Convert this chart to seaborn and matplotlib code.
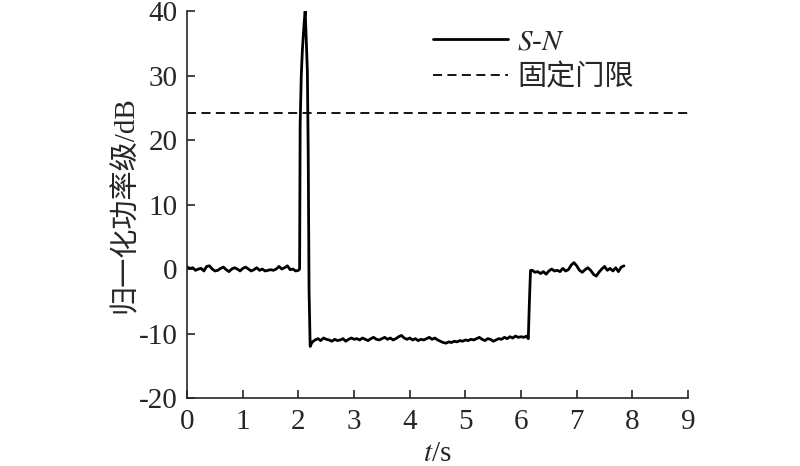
import numpy as np
import pandas as pd
import matplotlib
matplotlib.use("Agg")
import matplotlib.pyplot as plt
import seaborn as sns

# normalised power level (dB)
seg1 = [0.3, 0.1, 0.2, -0.2, 0.0, 0.1, -0.3, 0.4, 0.5, 0.0, -0.3, -0.2, 0.1, 0.3,
        -0.1, -0.4, 0.0, 0.2, 0.0, -0.3, 0.1, 0.3, 0.0, -0.3, -0.1, 0.2, -0.2, 0.0,
        -0.3, -0.2, -0.1, -0.2, 0.0, 0.4, 0.0, 0.2, 0.5, -0.1, 0.0, -0.3, -0.2]
spike_t = [2.02, 2.03, 2.05, 2.07, 2.10, 2.12, 2.14, 2.16, 2.175, 2.19, 2.21, 2.23]
spike_v = [0.0, 22.5, 30.0, 34.0, 38.0, 40.0, 35.5, 30.5, 17.7, -3.4, -12.0, -11.6]
seg2 = [-11.3, -11.0, -10.8, -11.1, -10.7, -10.9, -11.0, -11.2, -10.9, -11.1, -11.0,
        -10.8, -11.2, -10.9, -10.7, -10.9, -10.8, -11.0, -10.7, -10.9, -11.1, -10.8,
        -10.6, -10.9, -11.0, -10.8, -10.6, -10.9, -10.7, -11.0, -10.8, -10.5, -10.3,
        -10.7, -10.9, -10.7, -11.0, -10.8, -11.1, -10.9, -11.0, -10.8, -10.6, -10.9,
        -10.7, -11.0, -11.2, -11.4, -11.5, -11.3, -11.4, -11.2, -11.3, -11.1, -11.2,
        -11.0, -11.1, -10.9, -11.0, -10.8, -10.6, -10.9, -11.1, -10.8, -10.9, -11.2,
        -11.0, -10.8, -10.9, -10.6, -10.8, -10.5, -10.7, -10.4, -10.6, -10.5, -10.6]
rise_t = [6.10, 6.13, 6.15, 6.17]
rise_v = [-10.4, -10.8, -5.0, -0.2]
seg3 = [-0.2, -0.5, -0.4, -0.7, -0.4, -0.8, -0.3, 0.0, -0.3, -0.2, -0.4, 0.1, -0.3,
        -0.1, 0.6, 1.0, 0.5, -0.2, -0.5, -0.1, 0.2, -0.2, -0.8, -1.1, -0.5, 0.0, 0.4,
        -0.2, 0.1, -0.3, 0.2, -0.4, 0.3, 0.5]
threshold = 24.2

t = np.concatenate([0.05 * np.arange(len(seg1)), spike_t,
                    2.25 + 0.05 * np.arange(len(seg2)), rise_t,
                    6.20 + 0.05 * np.arange(len(seg3))])
v = np.concatenate([seg1, spike_v, seg2, rise_v, seg3])
df = pd.DataFrame({"t": np.round(t, 4), "level": v})

sns.set_style("ticks")
plt.rcParams["font.family"] = ["Liberation Serif", "Noto Sans CJK SC"]
plt.rcParams["mathtext.fontset"] = "stix"
plt.rcParams["axes.unicode_minus"] = False
plt.rcParams["font.size"] = 20

fig = plt.figure(figsize=(8, 4.66), dpi=100)
ax = fig.add_axes([0.234, 0.146, 0.626, 0.830])

sns.lineplot(data=df, x="t", y="level", ax=ax, color="black", linewidth=2.0,
             label="$S$-$N$", sort=False, estimator=None)
ax.axhline(threshold, color="black", linestyle=(0, (5, 3)), linewidth=1.3,
           label="固定门限")

ax.set_xlim(0, 9)
ax.set_ylim(-20, 40)
ax.set_xticks(range(0, 10))
ax.set_yticks(range(-20, 41, 10))
ax.set_xlabel("$t$/s", labelpad=4, fontsize=21)
ax.set_ylabel("归一化功率级/dB", labelpad=0, fontsize=21)
ax.tick_params(direction="in", length=6, width=1.2, labelsize=21)
ax.tick_params(axis="x", pad=8)
ax.tick_params(axis="y", pad=7)
sns.despine(ax=ax)
for s in ["left", "bottom"]:
    ax.spines[s].set_linewidth(1.2)

ax.legend(loc="upper left", bbox_to_anchor=(0.455, 1.0), frameon=False,
          fontsize=21, handlelength=2.6, handletextpad=0.3, labelspacing=0.3,
          borderaxespad=0.2)

fig.savefig("out.png", dpi=100)
